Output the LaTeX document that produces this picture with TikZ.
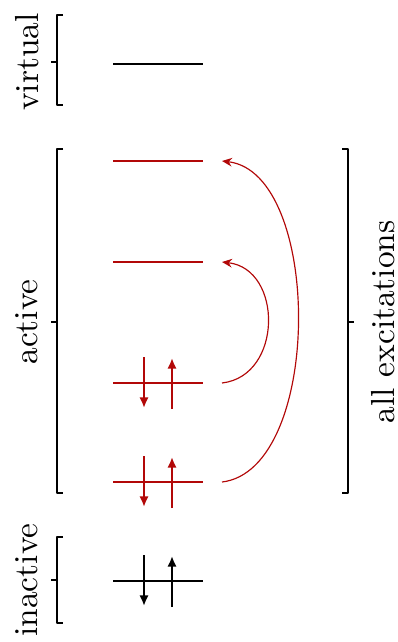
\documentclass[tikz,border=0pt]{standalone}
\usetikzlibrary{arrows.meta}
\definecolor{actred}{RGB}{178,8,8}
\begin{document}
\begin{tikzpicture}[x=0.3pt, y=-0.3pt, font=\normalsize, line join=round,
  level/.style={line width=0.45pt},
  spin/.style={line width=0.8pt, -{Latex[length=3.2pt,width=2.8pt]}},
  excite/.style={line width=0.35pt, actred, -{Stealth[length=3pt,width=2.6pt]}},
  brack/.style={line width=0.6pt},
  lab/.style={rotate=90, inner sep=0pt}]
\useasboundingbox (0,0) rectangle (397,642);
% orbital levels
\draw[level] (113,64) coordinate (v1l) -- (203,64) coordinate (v1r);
\draw[level, actred] (113,161) coordinate (a4l) -- (203,161) coordinate (a4r);
\draw[level, actred] (113,262) coordinate (a3l) -- (203,262) coordinate (a3r);
\draw[level, actred] (113,383) coordinate (a2l) -- (203,383) coordinate (a2r);
\draw[level, actred] (113,482) coordinate (a1l) -- (203,482) coordinate (a1r);
\draw[level] (113,581) coordinate (i1l) -- (203,581) coordinate (i1r);
% electrons
\foreach \y/\c in {383/actred, 482/actred, 581/black}{
  \coordinate (dn) at (144,\y-26);
  \coordinate (dnend) at (144,\y+25);
  \coordinate (up) at (172,\y+26);
  \coordinate (upend) at (172,\y-25);
  \draw[spin, \c] (dn) -- (dnend);
  \draw[spin, \c] (up) -- (upend);
}
% excitations
\coordinate (e2) at (222,383);
\coordinate (t3) at (222,262);
\coordinate (e1) at (222,482);
\coordinate (t4) at (222,161);
\draw[excite] (e2) .. controls (283,376) and (283,269) .. (t3);
\draw[excite] (e1) .. controls (323,470) and (323,173) .. (t4);
% brackets
\draw[brack] (63,15) -- (57,15) -- (57,105) -- (63,105) (57,62) -- (51,62);
\draw[brack] (63,149) -- (57,149) -- (57,493) -- (63,493) (57,322) -- (51,322);
\draw[brack] (63,537) -- (57,537) -- (57,623) -- (63,623) (57,580) -- (51,580);
\draw[brack] (342,149) -- (348,149) -- (348,493) -- (342,493) (348,322) -- (354,322);
% labels
\node[lab] (virt) at (27,62) {virtual};
\node[lab] (act) at (27,322) {active};
\node[lab] (inact) at (27,580) {inactive};
\node[lab] (allex) at (383,322) {all excitations};
\end{tikzpicture}
\end{document}
